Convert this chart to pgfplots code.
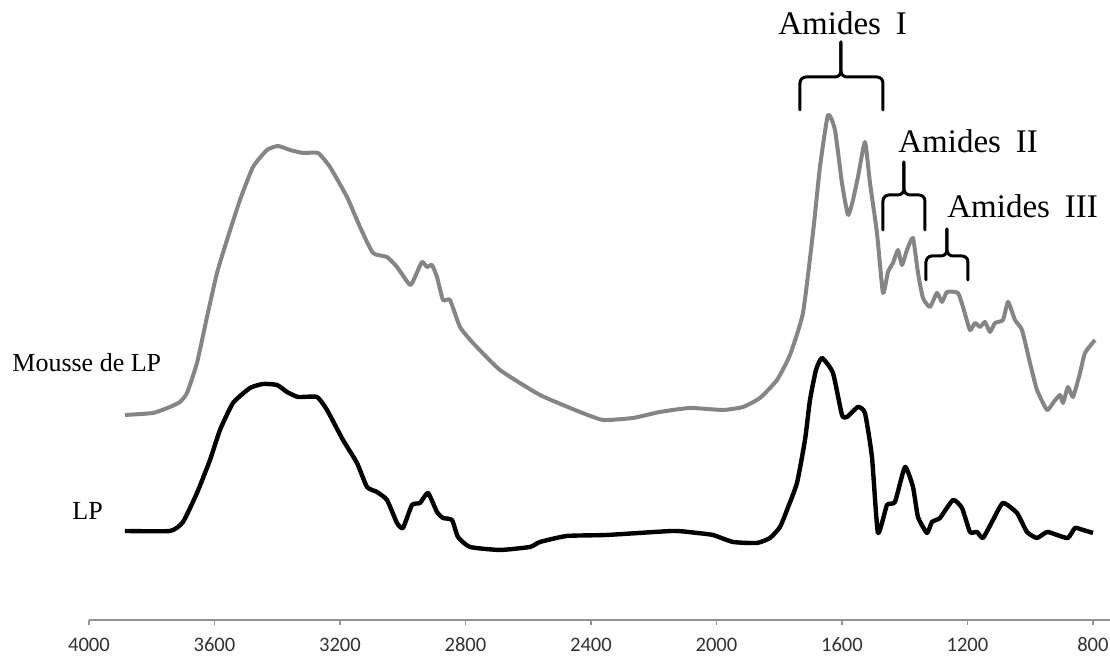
\documentclass[border=0pt]{standalone}
\usepackage{fontspec}
\setmainfont{Liberation Serif}
\newfontfamily\carlito{Carlito}
\usepackage{pgfplots}
\pgfplotsset{compat=1.18}
\definecolor{spgray}{HTML}{858585}
\begin{document}
\begin{tikzpicture}
\begin{axis}[
 x=0.156875pt, y=0.5pt,
 x dir=reverse,
 xmin=746, xmax=4000, ymin=39, ymax=659,
 axis x line*=bottom, axis y line=none,
 x axis line style={-, draw=gray!85, line width=0.8pt},
 xtick={800,1200,...,4000},
 ytick=\empty,
 tick align=outside, major tick length=2.5pt,
 xtick style={draw=gray!85, line width=0.8pt},
 xticklabel style={font=\carlito\fontsize{10.3}{12}\selectfont, text=black!80,
   text height=7pt, text depth=0pt, yshift=-2.5pt},
 /pgf/number format/assume math mode=true,
 /pgf/number format/1000 sep={},
 clip=false,
]
\coordinate (bbsw) at (axis cs:4283.7,0);
\coordinate (bbne) at (axis cs:745.7,659);

% Mousse de LP (gray)
\addplot[spgray, line width=2pt, line join=round, smooth, tension=0.3] coordinates {
(3885.3,244) (3796.0,246) (3741.8,252) (3709.9,257) (3687.6,266) (3655.8,296)
(3623.9,342) (3592.0,386) (3560.2,419) (3518.7,459) (3477.3,492) (3432.7,509)
(3397.6,513) (3359.4,509) (3317.9,506) (3270.1,506) (3231.9,492) (3177.7,462)
(3136.2,432) (3094.8,406) (3050.2,402) (3018.3,392) (2976.9,374) (2960.9,382)
(2938.6,397) (2922.7,392) (2906.7,394) (2890.8,382) (2871.7,359) (2849.4,359)
(2817.5,332) (2776.1,316) (2690.0,289) (2562.5,264) (2435.0,247) (2361.7,239)
(2266.1,241) (2180.1,247) (2084.4,251) (1979.3,249) (1915.5,252) (1861.3,261)
(1807.1,279) (1765.7,304) (1724.3,346) (1692.4,426) (1670.1,492) (1644.6,544)
(1622.3,529) (1600.0,476) (1580.8,444) (1564.9,459) (1549.0,482) (1526.7,517)
(1510.7,476) (1488.4,426) (1469.3,366) (1453.3,387) (1437.4,396) (1421.5,409)
(1408.7,394) (1392.7,409) (1373.6,421) (1357.7,386) (1341.8,361) (1319.5,352)
(1297.2,366) (1281.2,357) (1265.3,367) (1230.2,366) (1214.3,352) (1192.0,329)
(1176.0,336) (1160.1,332) (1144.1,337) (1128.2,327) (1112.2,336) (1086.7,339)
(1070.8,357) (1048.5,339) (1026.2,329) (1000.7,296) (978.4,269) (946.5,249)
(927.4,256) (905.1,264) (895.5,256) (879.6,272) (863.6,262) (841.3,286)
(825.4,306) (793.5,319)
};

% LP (black)
\addplot[black, line width=2.2pt, line join=round, smooth, tension=0.3] coordinates {
(3885.3,128) (3741.8,128) (3700.4,137) (3655.8,166) (3614.3,199) (3582.5,229)
(3541.0,256) (3486.8,271) (3445.4,275) (3400.8,274) (3368.9,267) (3333.8,262)
(3273.3,262) (3241.4,249) (3190.4,219) (3145.8,196) (3113.9,172) (3082.1,167)
(3050.2,159) (3018.3,136) (2999.2,131) (2970.5,154) (2945.0,156) (2919.5,166)
(2890.8,147) (2871.7,141) (2843.0,139) (2823.9,122) (2785.6,112) (2690.0,109)
(2594.4,112) (2562.5,117) (2476.5,123) (2348.9,124) (2138.6,128) (2062.1,126)
(2011.1,124) (1947.4,117) (1870.9,116) (1829.3,121) (1797.5,132) (1775.2,149)
(1743.4,176) (1717.9,219) (1701.9,259) (1682.8,289) (1663.7,301) (1628.7,286)
(1600.0,244) (1584.1,242) (1549.0,252) (1526.7,246) (1504.4,202) (1485.3,126)
(1456.6,154) (1431.1,157) (1399.2,192) (1373.6,172) (1357.7,142) (1329.0,126)
(1313.1,137) (1287.6,141) (1246.1,159) (1217.5,151) (1192.0,127) (1169.7,127)
(1150.5,121) (1118.6,139) (1086.7,156) (1042.2,146) (1010.3,127) (978.4,121)
(946.5,127) (914.7,124) (879.6,121) (857.3,131) (831.8,129) (799.9,126)
};

% brackets
\begin{scope}[line width=1.5pt, rounded corners=3pt, line cap=round]
\draw (axis cs:1733.8,549) -- (axis cs:1733.8,582) -- (axis cs:1603.1,582) -- (axis cs:1603.1,617);
\draw (axis cs:1469.3,549) -- (axis cs:1469.3,582) -- (axis cs:1603.1,582) -- (axis cs:1603.1,617);
\draw (axis cs:1469.3,429) -- (axis cs:1469.3,464) -- (axis cs:1402.4,464) -- (axis cs:1402.4,497);
\draw (axis cs:1335.4,429) -- (axis cs:1335.4,464) -- (axis cs:1402.4,464) -- (axis cs:1402.4,497);
\draw (axis cs:1332.2,379) -- (axis cs:1332.2,403) -- (axis cs:1265.3,403) -- (axis cs:1265.3,430);
\draw (axis cs:1198.4,379) -- (axis cs:1198.4,403) -- (axis cs:1265.3,403) -- (axis cs:1265.3,430);
\end{scope}

\begin{scope}[every node/.style={inner sep=0pt, anchor=base west}]
\node[font=\fontsize{16.5}{18}\selectfont] at (axis cs:1803.9,624) {Amides\hspace{0.45em}I};
\node[font=\fontsize{16.5}{18}\selectfont] at (axis cs:1421.5,506) {Amides\hspace{0.45em}II};
\node[font=\fontsize{16.5}{18}\selectfont] at (axis cs:1265.3,441) {Amides\hspace{0.45em}III};
\node[font=\fontsize{13}{15}\selectfont] at (axis cs:4245.4,287) {Mousse de LP};
\node[font=\fontsize{13}{15}\selectfont] at (axis cs:4054.2,139) {LP};
\end{scope}
\end{axis}
\pgfresetboundingbox
\useasboundingbox (bbsw) rectangle (bbne);
\end{tikzpicture}
\end{document}
